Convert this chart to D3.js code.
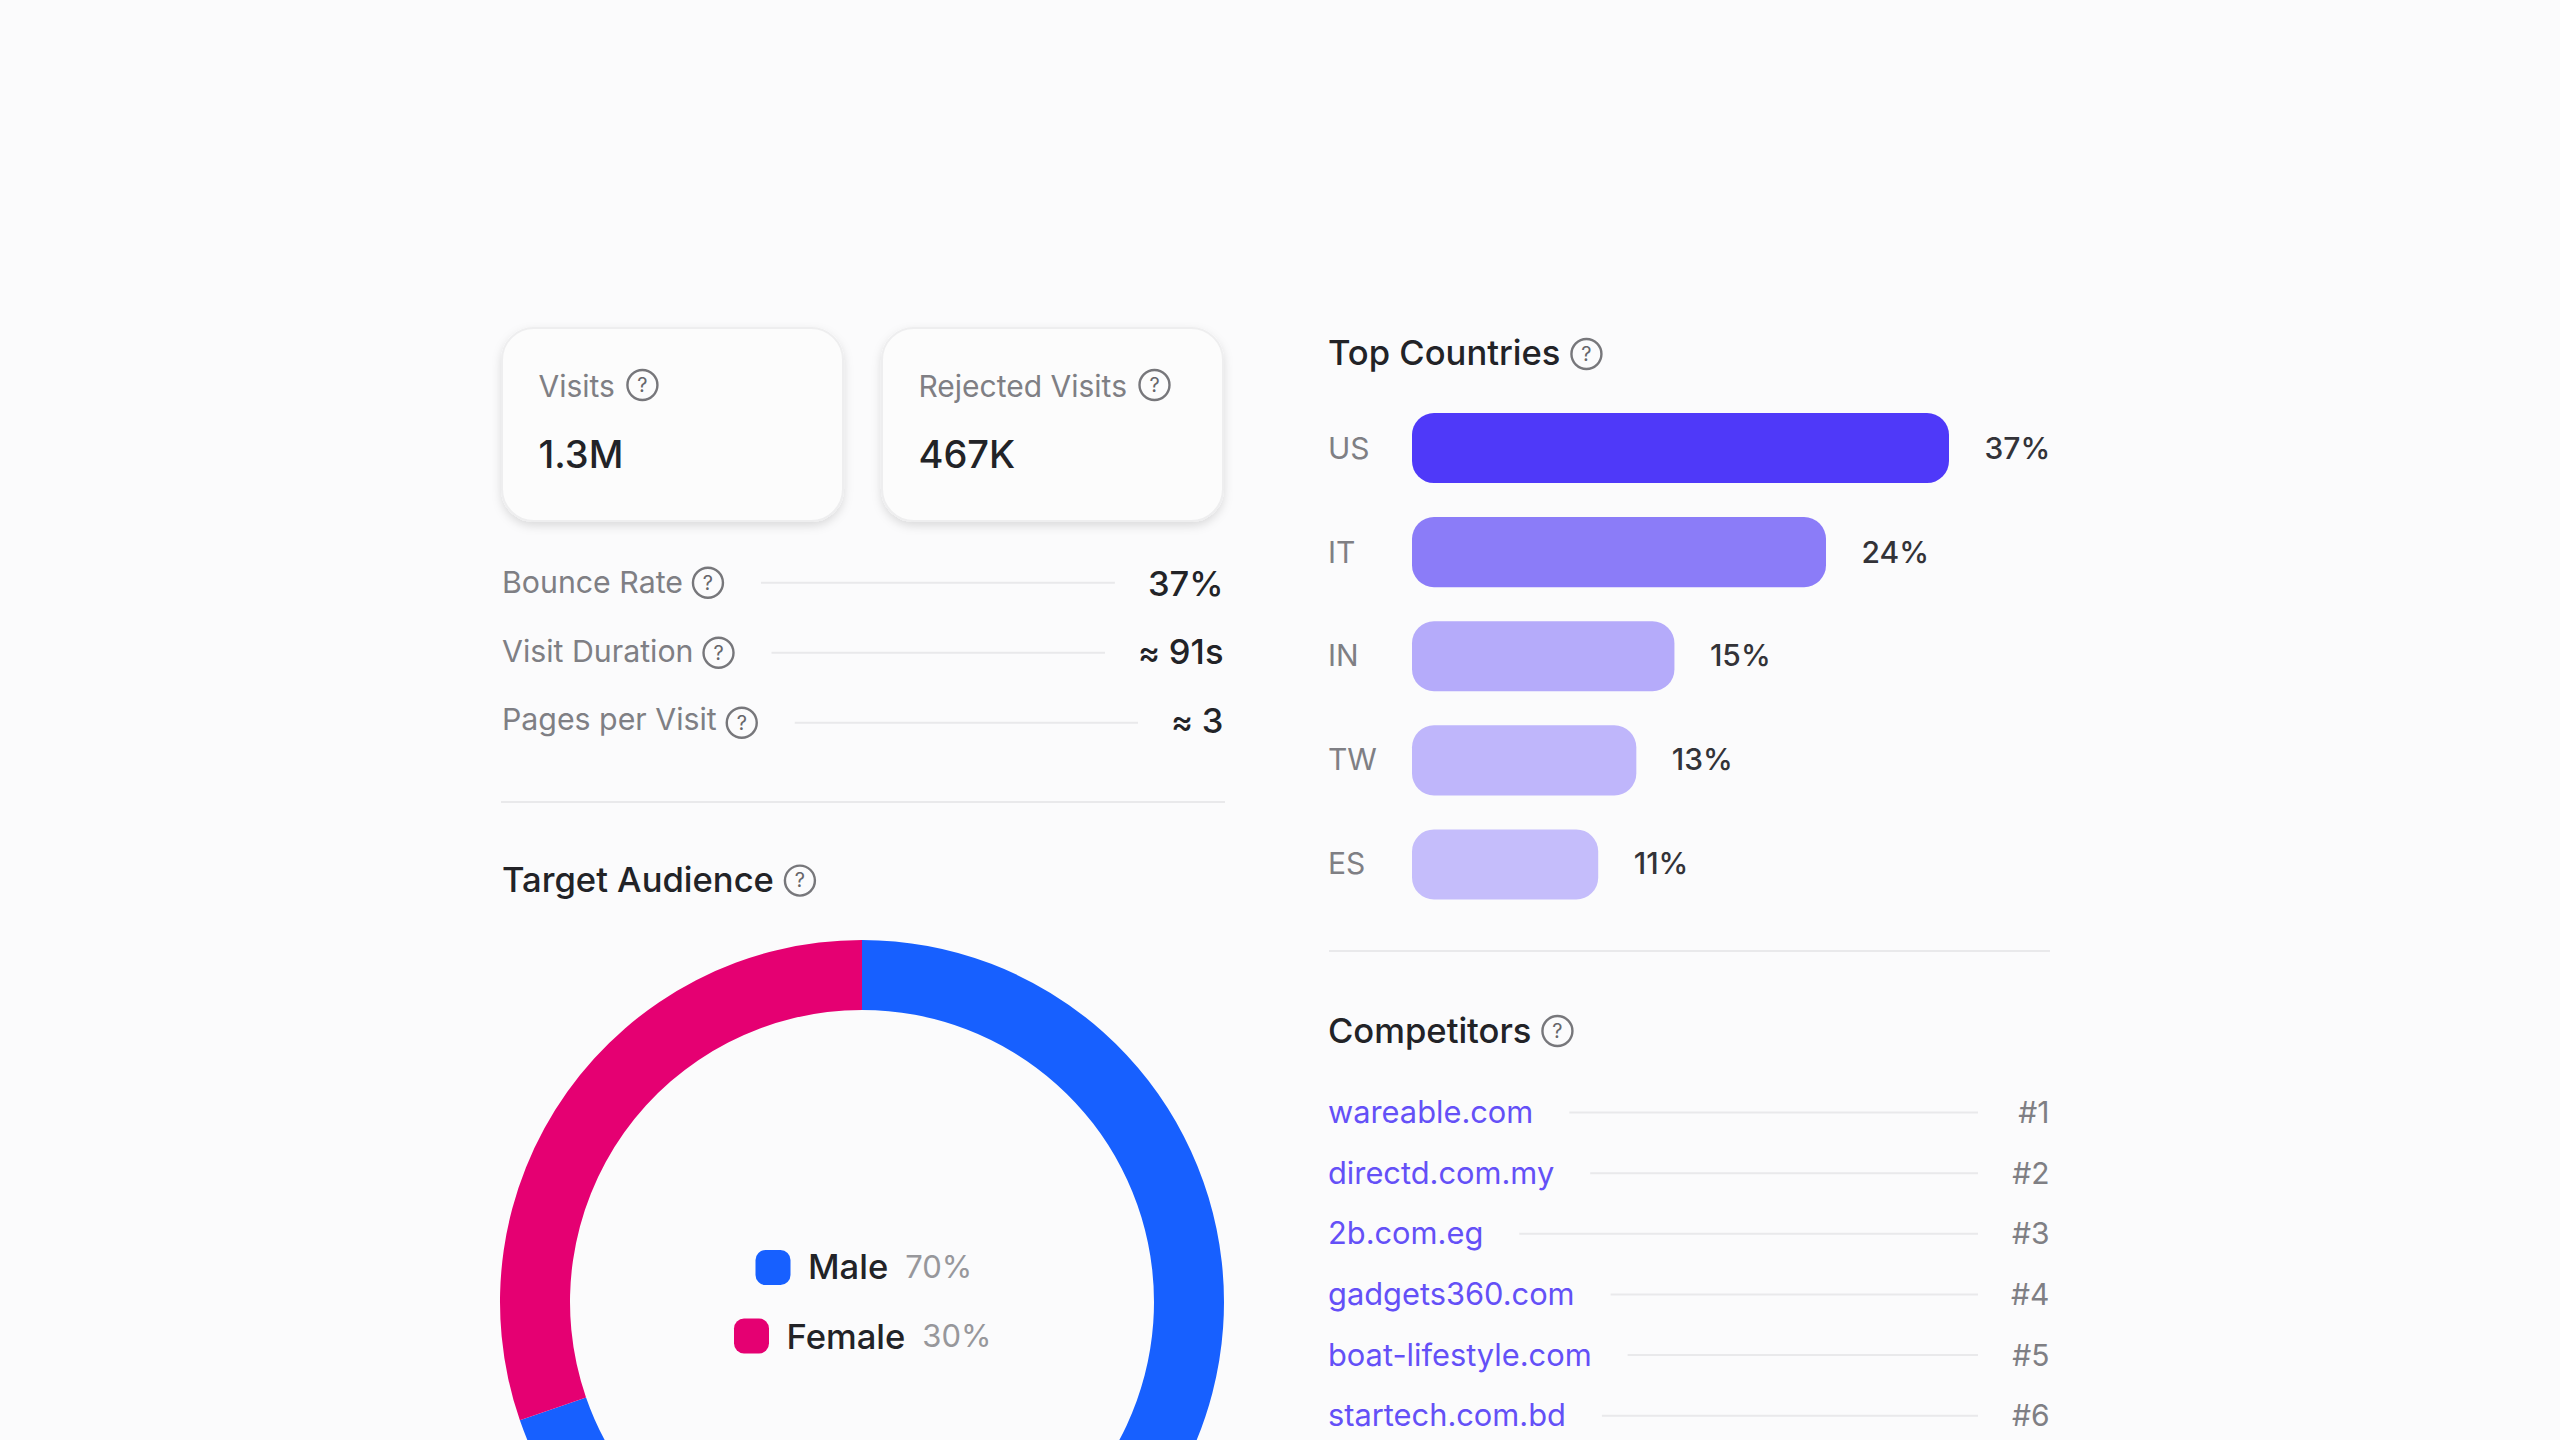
<!DOCTYPE html>
<html>
<head>
<meta charset="utf-8">
<script src="https://cdn.jsdelivr.net/npm/d3@7/dist/d3.min.js"></script>
<style>
	html, body { margin: 0; padding: 0; background: #fbfbfc; }
	svg { display: block; }
	text { font-family: Inter, "Noto Sans", sans-serif; }
</style>
</head>
<body>
<div id="chart"></div>
<script>
var card_labels = ["Visits", "Rejected Visits"];
var card_values = ["1.3M", "467K"];

var metric_labels = ["Bounce Rate", "Visit Duration", "Pages per Visit"];
var metric_prefix = ["", "≈", "≈"];
var metric_values = ["37%", "91s", "3"];

var audience_labels = ["Male", "Female"];
var audience_values = [69.7, 30.3];

var country_labels = ["US", "IT", "IN", "TW", "ES"];
var country_values = [37, 23.9, 15.15, 12.95, 10.75];
var country_text = ["37%", "24%", "15%", "13%", "11%"];

var competitor_labels = ["wareable.com", "directd.com.my", "2b.com.eg", "gadgets360.com", "boat-lifestyle.com", "startech.com.bd"];
var competitor_ranks = ["#1", "#2", "#3", "#4", "#5", "#6"];

var chart_width = 2560,
	chart_height = 1440;

var ink = "#222327",
	muted = "#7f7f84",
	rule = "#e9e9eb",
	bar_colors = ["#4f39f9", "#8b7cf8", "#b5abfa", "#bfb6fb", "#c5bdfb"],
	audience_colors = ["#1760ff", "#e50072"];

var svg = d3.select("#chart")
	.append("svg")
		.attr("width", chart_width)
		.attr("height", chart_height);

var shadow = svg.append("defs").append("filter")
	.attr("id", "card_shadow")
	.attr("x", "-10%").attr("y", "-10%")
	.attr("width", "120%").attr("height", "125%");
shadow.append("feDropShadow")
	.attr("dx", 0).attr("dy", 4)
	.attr("stdDeviation", 5)
	.attr("flood-color", "#000")
	.attr("flood-opacity", 0.13);

// the little (?) after a label, x is the left edge of the circle
function help_icon(x, y, r) {
	var g = svg.append("g").attr("transform", "translate(" + (x + r) + "," + y + ")");
	g.append("circle")
		.attr("r", r - 1)
		.attr("fill", "none")
		.attr("stroke", "#77777b")
		.attr("stroke-width", 2.4);
	g.append("text")
		.text("?")
		.attr("text-anchor", "middle")
		.attr("y", r * 0.43)
		.attr("font-size", r * 1.25)
		.attr("fill", "#66666a");
	return x + r * 2;
}

function label(x, y, txt, size, color, weight) {
	return svg.append("text")
		.text(txt)
		.attr("x", x)
		.attr("y", y)
		.attr("font-size", size)
		.attr("font-weight", weight || 400)
		.attr("fill", color);
}

function text_end(sel) {
	return +sel.attr("x") + sel.node().getComputedTextLength();
}

function rule_line(x1, x2, y) {
	svg.append("line")
		.attr("x1", x1).attr("x2", x2)
		.attr("y1", y).attr("y2", y)
		.attr("stroke", rule)
		.attr("stroke-width", 2);
}

// cards
var card_x = d3.scaleBand().domain(card_labels).range([502, 1223]).paddingInner(0.1026);

card_labels.forEach(function(d, i) {
	var x = card_x(d);
	svg.append("rect")
		.attr("x", x).attr("y", 328)
		.attr("width", card_x.bandwidth()).attr("height", 193)
		.attr("rx", 32)
		.attr("fill", "#fcfcfc")
		.attr("stroke", "#eeeeef")
		.attr("stroke-width", 2)
		.attr("filter", "url(#card_shadow)");
	var t = label(x + 36.5, 397, d, 30, muted);
	help_icon(text_end(t) + 11.5, 385, 16);
	label(x + 36.5, 468, card_values[i], 38, ink, 500);
});

// metric rows, the label and value baselines do not sit evenly around the rule
var metric_y = d3.scalePoint().domain(metric_labels).range([582.7, 722.7]);
var metric_label_y = d3.scalePoint().domain(metric_labels).range([593, 730]);
var metric_value_y = d3.scalePoint().domain(metric_labels).range([595.5, 733]);

metric_labels.forEach(function(d, i) {
	var y = metric_y(d);
	var t = label(502, metric_label_y(d), d, 30.3, muted);
	var icon_end = help_icon(text_end(t) + 9, y, 16);
	var v = svg.append("text")
		.attr("x", 1223.5)
		.attr("y", metric_value_y(d))
		.attr("text-anchor", "end")
		.attr("font-size", 34.5)
		.attr("font-weight", 500)
		.attr("fill", ink);
	if (metric_prefix[i]) {
		v.append("tspan").text(metric_prefix[i] + " ").attr("font-size", 33);
	}
	v.append("tspan").text(metric_values[i]);
	rule_line(icon_end + 37, 1223.5 - v.node().getComputedTextLength() - 33, y);
});

rule_line(501, 1225, 802);

// target audience
var ta = label(502, 891.5, "Target Audience", 34.6, ink, 500);
help_icon(text_end(ta) + 10, 880.6, 16);

var donut = svg.append("g").attr("transform", "translate(862,1302)");
var pie = d3.pie().sort(null);
var arc = d3.arc().innerRadius(292).outerRadius(362);

donut.selectAll("path")
	.data(pie(audience_values))
	.enter()
	.append("path")
	.attr("d", arc)
	.attr("fill", function(d, i) {
		return audience_colors[i];
	});

var legend_y = d3.scalePoint().domain(audience_labels).range([1267.5, 1336]);

audience_labels.forEach(function(d, i) {
	var left = i == 0 ? 755.5 : 734;
	svg.append("rect")
		.attr("x", left)
		.attr("y", legend_y(d) - 17.5)
		.attr("width", 35)
		.attr("height", 35)
		.attr("rx", 10)
		.attr("fill", audience_colors[i]);
	var t = label(left + 52.5, legend_y(d) + 11.5 + i, d, 34.6, ink, 500);
	label(text_end(t) + 17, legend_y(d) + 10 + i, Math.round(audience_values[i]) + "%", 31, "#97979b");
});

// top countries
var tc = label(1328, 365, "Top Countries", 34.6, ink, 500);
help_icon(text_end(tc) + 10, 354, 16);

var bar_x = d3.scaleLinear().domain([0, 31]).range([0, 537]).clamp(true);
var bar_y = d3.scaleBand().domain(country_labels).range([413, 899.5]).paddingInner(0.327);

svg.selectAll("rect.bar")
	.data(country_values)
	.enter()
	.append("rect")
	.attr("class", "bar")
	.attr("x", 1412)
	.attr("y", function(d, i) {
		return bar_y(country_labels[i]);
	})
	.attr("width", function(d) {
		return bar_x(d);
	})
	.attr("height", bar_y.bandwidth())
	.attr("rx", 22)
	.attr("fill", function(d, i) {
		return bar_colors[i];
	});

var country_text_y = d3.scalePoint().domain(country_labels).range([459, 873.5]);

country_labels.forEach(function(d, i) {
	label(1328, country_text_y(d), d, 30, muted);
	label(1412 + bar_x(country_values[i]) + 35.5, country_text_y(d), country_text[i], 30, "#333338", 500);
});

rule_line(1329, 2050, 951);

// competitors
var cp = label(1328, 1043, "Competitors", 34.6, ink, 500);
help_icon(text_end(cp) + 10, 1031, 16);

var comp_y = d3.scalePoint().domain(competitor_labels).range([1112.5, 1415.7]);

competitor_labels.forEach(function(d, i) {
	var y = comp_y(d);
	var t = label(1328, y + 10.5, d, 30.8, "#6450f7");
	rule_line(text_end(t) + 36, 1978, y);
	svg.append("text")
		.text(competitor_ranks[i])
		.attr("x", 2049.5)
		.attr("y", y + 10.5)
		.attr("text-anchor", "end")
		.attr("font-size", 30)
		.attr("fill", muted);
});
</script>
</body>
</html>
